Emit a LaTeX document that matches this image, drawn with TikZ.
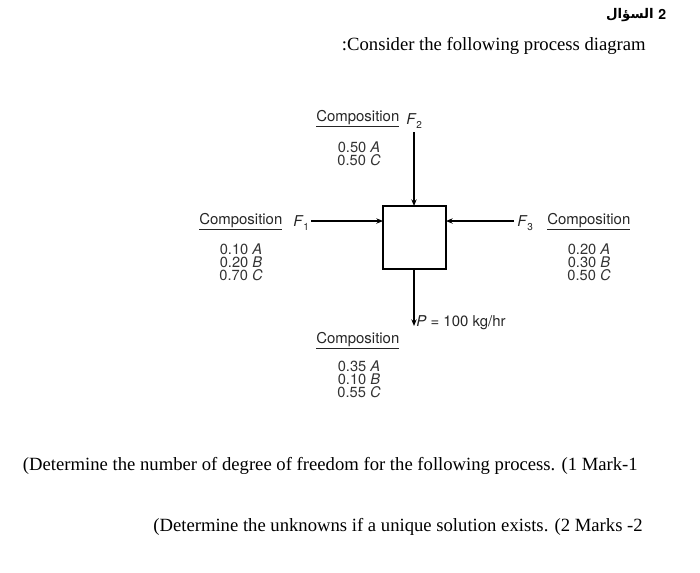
\documentclass[tikz,border=0pt]{standalone}
\usepackage{fontspec}
\setmainfont{Liberation Serif}
\newfontfamily\diagfont{TeX Gyre Heros}
\newfontfamily\arabicfont[Script=Arabic]{DejaVu Sans}
\usetikzlibrary{arrows.meta}
\newcommand{\flowname}[2]{\textit{#1}\raisebox{-0.45ex}{\fontsize{7.5}{8}\selectfont #2}}
\begin{document}
\begin{tikzpicture}[x=0.75pt,y=-0.75pt,
  lbl/.style={font=\diagfont\fontsize{11.2}{11}\selectfont, inner sep=0pt, text=black!85},
  vals/.style={font=\diagfont\fontsize{11}{9.75}\selectfont, inner sep=0pt, align=center, text=black!80},
  maintext/.style={font=\fontsize{14}{16}\selectfont, inner sep=0pt},
  flow/.style={line width=1.1pt, -{Stealth[length=5pt,width=4pt]}},
  unitbox/.style={line width=1.1pt}]
\useasboundingbox (0,0) rectangle (700,572);
% header
\node[font=\arabicfont\bfseries\fontsize{10}{12}\selectfont, anchor=east, inner sep=0pt] (qa) at (654,15) {السؤال};
\node[font=\diagfont\bfseries\fontsize{10.5}{12}\selectfont, anchor=west, inner sep=0pt] (qn) at (658,14) {2};
\node[maintext, anchor=east] (consider) at (646,46) {:Consider the following process diagram};
% unit
\draw[unitbox] (383,206) rectangle (446,269);
\coordinate (bw) at (383,221);
\coordinate (be) at (446,221);
\coordinate (bn) at (414,206);
\coordinate (bs) at (414,269);
% F1
\node[lbl, anchor=west] (c1) at (199,222) {\underline{Composition}};
\node[lbl, anchor=west] (f1) at (293,223) {\flowname{F}{1}};
\node[vals] (v1) at (241,262) {0.10 \textit{A}\\0.20 \textit{B}\\0.70 \textit{C}};
\coordinate (f1s) at (311,221);
\draw[flow] (f1s) -- (bw);
% F2
\node[lbl, anchor=west] (c2) at (316,119) {\underline{Composition}};
\node[lbl, anchor=west] (f2) at (406,121) {\flowname{F}{2}};
\node[vals] (v2) at (359,154) {0.50 \textit{A}\\0.50 \textit{C}};
\coordinate (f2s) at (414,132);
\draw[flow] (f2s) -- (bn);
% F3
\node[lbl, anchor=west] (f3) at (517,223) {\flowname{F}{3}};
\node[lbl, anchor=west] (c3) at (547,222) {\underline{Composition}};
\node[vals] (v3) at (589,262) {0.20 \textit{A}\\0.30 \textit{B}\\0.50 \textit{C}};
\coordinate (f3s) at (514,221);
\draw[flow] (f3s) -- (be);
% P
\coordinate (pe) at (414,326);
\draw[flow] (bs) -- (pe);
\node[lbl, anchor=west] (p) at (416,323) {\textit{P} = 100 kg/hr};
\node[lbl, anchor=west] (c4) at (316,341) {\underline{Composition}};
\node[vals] (v4) at (359,379) {0.35 \textit{A}\\0.10 \textit{B}\\0.55 \textit{C}};
% questions
\node[maintext, anchor=east] (q1) at (638,466) {(Determine the number of degree of freedom for the following process. (1 Mark-1};
\node[maintext, anchor=east] (q2) at (643,527) {(Determine the unknowns if a unique solution exists. (2 Marks -2};
\end{tikzpicture}
\end{document}
